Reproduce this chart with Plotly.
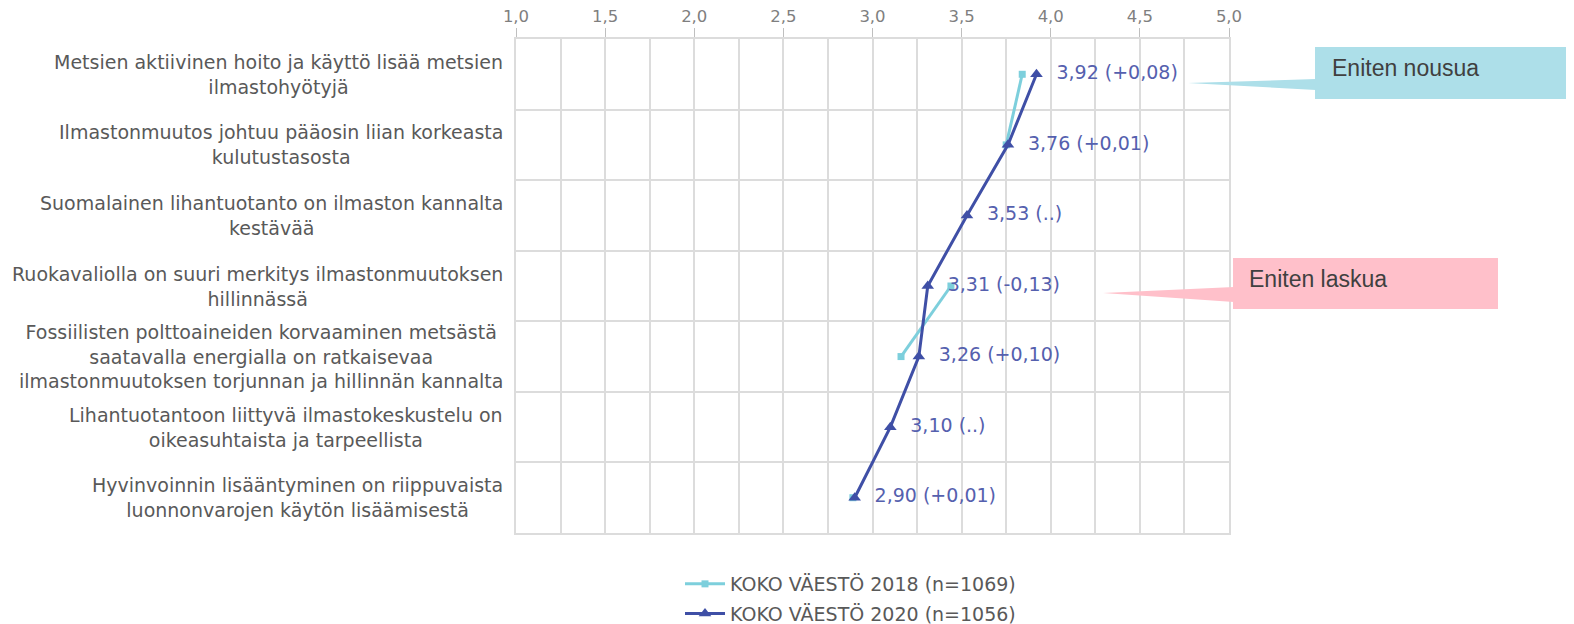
import plotly.graph_objects as go

categories = [
    "Metsien aktiivinen hoito ja käyttö lisää metsien<br>ilmastohyötyjä",
    "Ilmastonmuutos johtuu pääosin liian korkeasta<br>kulutustasosta",
    "Suomalainen lihantuotanto on ilmaston kannalta<br>kestävää",
    "Ruokavaliolla on suuri merkitys ilmastonmuutoksen<br>hillinnässä",
    "Fossiilisten polttoaineiden korvaaminen metsästä<br>saatavalla energialla on ratkaisevaa<br>ilmastonmuutoksen torjunnan ja hillinnän kannalta",
    "Lihantuotantoon liittyvä ilmastokeskustelu on<br>oikeasuhtaista ja tarpeellista",
    "Hyvinvoinnin lisääntyminen on riippuvaista<br>luonnonvarojen käytön lisäämisestä",
]
values_2018 = [3.84, 3.75, None, 3.44, 3.16, None, 2.89]
values_2020 = [3.92, 3.76, 3.53, 3.31, 3.26, 3.10, 2.90]
name_2018 = "KOKO VÄESTÖ 2018 (n=1069)"
name_2020 = "KOKO VÄESTÖ 2020 (n=1056)"
x_ticks = [1.0, 1.5, 2.0, 2.5, 3.0, 3.5, 4.0, 4.5, 5.0]

def fmt(v):
    return f"{v:.2f}".replace(".", ",")

labels_2020 = []
for a, b in zip(values_2018, values_2020):
    if a is None:
        lab = f"{fmt(b)} (..)"
    else:
        d = round(b - a, 2)
        sign = "+" if d >= 0 else "-"
        lab = f"{fmt(b)} ({sign}{fmt(abs(d))})"
    labels_2020.append("\u00a0\u00a0" + lab)

ypos = list(range(len(categories)))

LIGHT = "#7DCFDC"
DARK = "#3F4FA6"
GRID = "#DCDCDC"
FONT = "DejaVu Sans"

fig = go.Figure()
fig.add_trace(go.Scatter(
    x=values_2018, y=ypos, name=name_2018, mode="lines+markers",
    line=dict(color=LIGHT, width=3), connectgaps=False, legendgroup="a",
    marker=dict(symbol="square", size=7, color=LIGHT),
))
fig.add_trace(go.Scatter(
    x=values_2020, y=ypos, name=name_2020, mode="lines+markers+text",
    line=dict(color=DARK, width=3), legendgroup="b",
    marker=dict(symbol="triangle-up", size=11, color=DARK),
    text=labels_2020, textposition="middle right", cliponaxis=False,
    textfont=dict(family=FONT, size=19, color="#5560AE"),
))

for i, c in enumerate(categories):
    fig.add_annotation(
        x=0, xref="paper", y=i, yref="y", text=c, showarrow=False,
        xanchor="right", align="center", xshift=-11,
        font=dict(family=FONT, size=19, color="#595959"),
    )

# screen geometry of the reference plot area
L, R, T, B = 513, 1226, 37, 531
DX, DY = 5, 6  # rendering offset of the page
W, H = 1574, 624
def px(p):
    return (p - L) / (R - L)
def py(p):
    return (B - p) / (B - T)

callouts = [
    dict(box=(1312, 45, 1600, 97), tip=(1185, 81), base=(77, 88), color="#ADDFE9",
         text="Eniten nousua", tx=1327, ty=66),
    dict(box=(1230, 256, 1495, 307), tip=(1100, 291), base=(285, 300), color="#FFC0CA",
         text="Eniten laskua", tx=1244, ty=277),
]
for cdef in callouts:
    x0, y0, x1, y1 = cdef["box"]
    fig.add_shape(type="rect", xref="paper", yref="paper",
                  x0=px(x0), x1=px(x1), y0=py(y1), y1=py(y0),
                  fillcolor=cdef["color"], line=dict(width=0), layer="above")
    tx, ty = cdef["tip"]
    b0, b1 = cdef["base"]
    path = (f"M {px(tx)} {py(ty)} L {px(x0 + 1)} {py(b0)} "
            f"L {px(x0 + 1)} {py(b1)} Z")
    fig.add_shape(type="path", xref="paper", yref="paper", path=path,
                  fillcolor=cdef["color"], line=dict(width=0), layer="above")
    fig.add_annotation(x=px(cdef["tx"]), y=py(cdef["ty"]), xref="paper", yref="paper",
                       text=cdef["text"], showarrow=False, xanchor="left", yanchor="middle",
                       font=dict(family="Liberation Sans", size=23, color="#404040"))

fig.update_layout(
    width=W, height=H,
    margin=dict(l=L - DX, r=W - (R - DX), t=T - DY, b=H - (B - DY), autoexpand=False),
    paper_bgcolor="white", plot_bgcolor="white",
    separators=", ",
    showlegend=True,
    legend=dict(x=(683 - 11) / W, xref="container", y=1 - (568 - 11) / H, yref="container",
                xanchor="left", yanchor="top", orientation="v",
                font=dict(family=FONT, size=19, color="#595959"),
                tracegroupgap=2, itemwidth=40, bgcolor="rgba(0,0,0,0)"),
    xaxis=dict(
        range=[1, 5], side="top", tickvals=x_ticks, tickformat=".1f",
        ticks="outside", ticklen=9, tickcolor="#BFBFBF",
        tickfont=dict(family=FONT, size=16.5, color="#7F7F7F"),
        showgrid=True, gridcolor=GRID, gridwidth=1.5,
        minor=dict(dtick=0.25, tick0=1, showgrid=True, gridcolor=GRID, gridwidth=1.5),
        showline=True, linecolor=GRID, linewidth=1.5, mirror=True,
        zeroline=False,
    ),
    yaxis=dict(
        range=[6.5, -0.5], tickvals=[i - 0.5 for i in range(len(categories) + 1)],
        showticklabels=False, showgrid=True, gridcolor=GRID, gridwidth=2,
        showline=True, linecolor=GRID, linewidth=1.5, mirror=True,
        zeroline=False, ticks="",
    ),
)

fig.write_html("out.html")
